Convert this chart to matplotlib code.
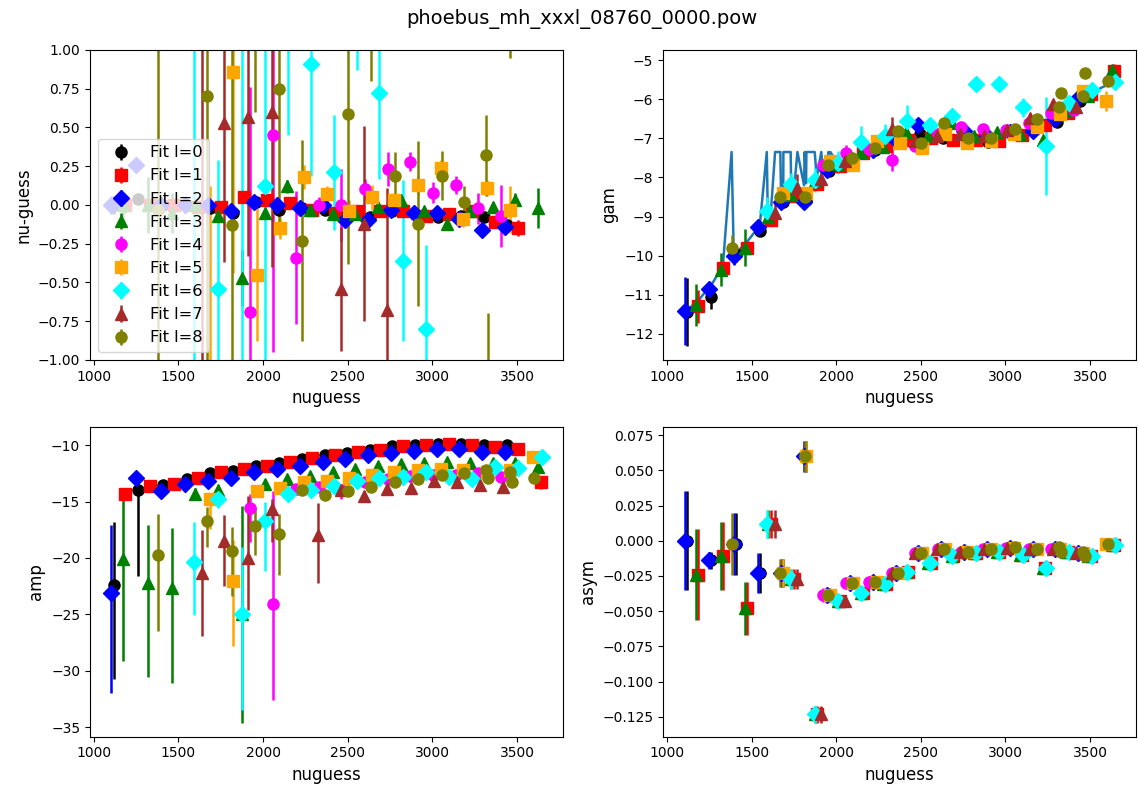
import matplotlib
matplotlib.use("Agg")
import matplotlib.pyplot as plt

title = "phoebus_mh_xxxl_08760_0000.pow"
degrees = [0, 1, 2, 3, 4, 5, 6, 7, 8]
colors = ['black', 'red', 'blue', 'green', 'magenta', 'orange', 'cyan', 'brown', 'olive']
markers = ['o', 's', 'D', '^', 'o', 's', 'D', '^', 'o']

# mode frequencies (nuguess) per degree
nu = {
    0: [1118, 1263, 1407, 1548, 1687, 1822, 1957, 2094, 2229, 2363, 2496, 2630, 2764, 2899, 3034, 3169, 3304, 3439],
    1: [1186, 1330, 1473, 1613, 1749, 1885, 2021, 2157, 2292, 2426, 2559, 2693, 2828, 2963, 3098, 3233, 3369, 3504, 3640],
    2: [1104, 1250, 1395, 1536, 1675, 1810, 1946, 2082, 2218, 2352, 2486, 2620, 2755, 2890, 3025, 3160, 3295, 3431],
    3: [1171, 1318, 1460, 1596, 1735, 1873, 2009, 2144, 2278, 2414, 2545, 2682, 2814, 2950, 3085, 3221, 3356, 3490, 3627],
    4: [1922, 2058, 2194, 2330, 2463, 2600, 2736, 2869, 3003, 3140, 3272, 3408],
    5: [1688, 1824, 1966, 2101, 2239, 2376, 2506, 2643, 2775, 2915, 3052, 3184, 3325, 3457, 3594],
    6: [1590, 1731, 1873, 2009, 2146, 2286, 2419, 2555, 2687, 2828, 2964, 3101, 3237, 3373, 3509, 3646],
    7: [1639, 1771, 1912, 2052, 2327, 2463, 2598, 2734, 2872, 3007, 3143, 3280, 3416],
    8: [1382, 1670, 1814, 1954, 2094, 2230, 2366, 2502, 2637, 2779, 2915, 3055, 3188, 3318, 3330, 3460, 3468, 3603],
}

# nu - guess
nug = {
    0: [0.00, 0.04, 0.00, 0.00, -0.02, -0.05, 0.02, -0.03, -0.02, -0.03, -0.06, -0.08, -0.04, -0.06, -0.08, -0.07, -0.08, -0.13],
    1: [0.00, 0.00, 0.00, -0.01, -0.01, 0.05, 0.03, 0.01, -0.03, -0.05, -0.04, -0.04, -0.04, -0.07, -0.06, -0.04, -0.11, -0.15, 1.30],
    2: [0.00, 0.26, 0.00, 0.00, 0.00, -0.04, 0.02, 0.00, -0.02, 0.00, -0.10, -0.10, -0.03, -0.05, -0.05, -0.09, -0.16, -0.14],
    3: [0.00, 0.00, -0.05, 0.00, -0.07, -0.47, -0.05, 0.12, -0.03, -0.06, -0.06, -0.01, 0.03, -0.04, -0.12, -0.04, -0.01, 0.03, -0.02],
    4: [-0.69, 0.45, -0.34, 0.00, 0.00, 0.10, 0.23, 0.28, 0.08, 0.13, -0.02, -0.07],
    5: [-1.30, 0.86, -0.45, -0.15, 0.18, 0.07, -0.04, 0.05, 0.03, 0.13, 0.24, -0.09, 0.11, -0.03, 1.40],
    6: [-1.50, -0.54, 2.50, 0.12, 1.50, 0.91, 0.21, 1.40, 0.72, -0.36, -0.80, 1.50, 1.50, 1.50, 1.50, 1.50],
    7: [-1.50, 0.53, 0.57, 0.60, 1.50, -0.54, -0.12, -0.68, 1.50, 1.50, 1.50, 1.50, 1.50],
    8: [-0.03, 0.70, -0.13, 1.30, 0.75, -0.23, -1.60, 0.59, 1.40, 0.19, -0.12, 0.19, 0.02, 0.32, -1.20, 1.30, 1.50, 1.50],
}
nug_err = {
    0: [0.06, 0.03, 0.04, 0.03, 0.02, 0.02, 0.02, 0.02, 0.02, 0.02, 0.02, 0.02, 0.02, 0.02, 0.02, 0.02, 0.02, 0.03],
    1: [0.05, 0.04, 0.04, 0.03, 0.02, 0.02, 0.02, 0.02, 0.02, 0.02, 0.02, 0.02, 0.02, 0.02, 0.02, 0.03, 0.03, 0.05, 0.10],
    2: [0.06, 0.03, 0.03, 0.03, 0.03, 0.03, 0.03, 0.03, 0.03, 0.03, 0.03, 0.03, 0.03, 0.03, 0.03, 0.03, 0.03, 0.03],
    3: [0.08, 0.18, 0.13, 0.05, 0.03, 0.18, 0.03, 0.04, 0.03, 0.03, 0.03, 0.03, 0.03, 0.03, 0.03, 0.03, 0.03, 0.05, 0.13],
    4: [1.45, 1.40, 0.43, 0.05, 0.23, 0.07, 0.11, 0.06, 0.07, 0.06, 0.10, 0.20],
    5: [1.42, 1.30, 0.43, 0.07, 0.08, 0.05, 0.07, 0.08, 0.05, 0.06, 0.05, 0.05, 0.05, 0.15, 0.10],
    6: [2.60, 0.83, 3.60, 1.20, 1.05, 0.72, 0.37, 0.53, 0.55, 0.52, 0.54, 0.20, 0.20, 0.20, 0.20, 0.20],
    7: [2.60, 0.90, 0.90, 1.00, 0.20, 0.40, 0.63, 0.79, 0.20, 0.20, 0.20, 0.20, 0.20],
    8: [2.00, 1.80, 1.20, 0.70, 0.90, 0.65, 0.20, 0.97, 0.60, 0.15, 0.53, 0.16, 0.10, 0.26, 0.50, 0.35, 0.20, 0.20],
}

# linewidth (gam)
gam = {
    0: [-11.44, -11.07, -9.97, -9.36, -8.63, -8.58, -7.84, -7.55, -7.30, -7.10, -6.88, -7.00, -6.95, -7.09, -6.87, -6.79, -6.57, -6.04],
    1: [-11.30, -10.32, -9.80, -9.08, -8.48, -8.18, -7.70, -7.37, -7.20, -7.03, -7.00, -7.03, -7.04, -7.07, -6.91, -6.67, -6.34, -5.87, -5.29],
    2: [-11.43, -10.85, -10.00, -9.27, -8.63, -8.63, -7.80, -7.60, -7.30, -7.03, -6.67, -6.90, -6.80, -6.95, -6.85, -6.80, -6.50, -5.96],
    3: [-11.26, -10.36, -9.80, -9.00, -8.45, -8.10, -7.65, -7.35, -7.21, -6.85, -6.95, -6.62, -6.94, -6.85, -6.88, -7.05, -6.30, -5.91, -5.26],
    4: [-7.69, -7.38, -7.28, -7.56, -7.20, -6.88, -6.71, -6.77, -6.79, -6.62, -6.34, -6.28],
    5: [-8.40, -8.40, -7.58, -7.67, -7.07, -7.11, -7.24, -6.88, -7.11, -7.06, -6.88, -6.72, -6.38, -5.78, -6.04],
    6: [-8.86, -8.18, -8.07, -7.62, -7.09, -6.94, -6.56, -6.67, -6.43, -5.60, -5.60, -6.21, -7.20, -6.09, -5.77, -5.57],
    7: [-8.90, -8.26, -8.03, -7.58, -6.75, -7.07, -6.94, -6.88, -6.94, -6.79, -6.47, -6.13, -6.20],
    8: [-9.80, -8.50, -8.50, -7.69, -7.50, -7.26, -6.81, -7.13, -6.62, -7.00, -7.00, -6.77, -6.51, -6.20, -5.83, -5.91, -5.34, -5.53],
}
gam_err = {
    0: [0.87, 0.30, 0.20, 0.10, 0.10, 0.08, 0.08, 0.06, 0.06, 0.05, 0.05, 0.05, 0.05, 0.05, 0.05, 0.05, 0.05, 0.05],
    1: [0.43, 0.10, 0.15, 0.10, 0.08, 0.08, 0.06, 0.06, 0.06, 0.05, 0.05, 0.05, 0.05, 0.05, 0.05, 0.06, 0.06, 0.08, 0.19],
    2: [0.87, 0.10, 0.25, 0.10, 0.08, 0.08, 0.05, 0.05, 0.05, 0.05, 0.05, 0.05, 0.05, 0.05, 0.05, 0.05, 0.05, 0.05],
    3: [0.54, 0.43, 0.47, 0.25, 0.10, 0.10, 0.08, 0.06, 0.06, 0.06, 0.06, 0.06, 0.06, 0.06, 0.06, 0.06, 0.06, 0.06, 0.06],
    4: [0.15, 0.20, 0.10, 0.28, 0.10, 0.08, 0.08, 0.06, 0.06, 0.06, 0.06, 0.06],
    5: [0.15, 0.15, 0.10, 0.10, 0.08, 0.06, 0.06, 0.06, 0.06, 0.06, 0.06, 0.06, 0.06, 0.08, 0.25],
    6: [0.35, 0.30, 0.30, 0.30, 0.40, 0.30, 0.40, 0.15, 0.20, 0.10, 0.10, 0.25, 1.26, 0.10, 0.10, 0.10],
    7: [0.25, 0.35, 0.25, 0.25, 0.30, 0.10, 0.08, 0.08, 0.08, 0.08, 0.08, 0.08, 0.08],
    8: [0.32, 0.10, 0.15, 0.10, 0.15, 0.10, 0.08, 0.08, 0.08, 0.08, 0.08, 0.08, 0.08, 0.08, 0.08, 0.08, 0.08, 0.08],
}

# guess linewidth curve (blue line in gam panel)
gline_nu = [1104, 1118, 1171, 1186, 1250, 1263, 1318, 1330, 1382, 1395, 1407, 1460, 1473, 1536, 1548,
            1590, 1596, 1613, 1639, 1670, 1675, 1687, 1688, 1731, 1735, 1749, 1771, 1810, 1814, 1822,
            1824, 1873, 1885, 1912, 1922, 1946, 1954, 1957, 1966, 2009, 2021, 2058, 2094, 2157, 2229,
            2292, 2363, 2426, 2496, 2559, 2630, 2693, 2764, 2828, 2899, 2963, 3034, 3098, 3169, 3233,
            3304, 3369, 3439, 3504, 3569, 3646]
gline_gam = [-11.45, -11.40, -11.20, -11.15, -10.80, -10.75, -10.35, -10.30, -7.35, -10.00, -9.95, -9.70, -9.65, -9.30, -9.25,
             -7.35, -9.00, -8.95, -7.35, -7.35, -8.70, -8.65, -7.35, -7.35, -8.45, -8.40, -7.35, -8.20, -7.35, -8.15,
             -7.35, -7.35, -8.00, -7.35, -7.90, -7.85, -7.35, -7.80, -7.35, -7.65, -7.60, -7.55, -7.50, -7.35, -7.25,
             -7.15, -7.05, -7.00, -6.95, -6.95, -6.92, -6.92, -6.95, -6.97, -6.97, -6.95, -6.88, -6.82, -6.72, -6.60,
             -6.45, -6.25, -6.05, -5.85, -5.70, -5.55]

# amplitude (lower / upper errors)
amp = {
    0: [-22.4, -14.0, -13.5, -13.0, -12.5, -12.3, -11.8, -11.6, -11.2, -10.9, -10.7, -10.4, -10.1, -10.0, -9.9, -9.9, -10.0, -10.0],
    1: [-14.3, -13.6, -13.4, -12.9, -12.4, -12.1, -11.8, -11.5, -11.1, -10.9, -10.6, -10.4, -10.1, -10.0, -9.9, -10.0, -10.2, -10.3, -13.3],
    2: [-23.1, -12.95, -14.1, -13.4, -13.2, -12.9, -12.4, -12.1, -11.8, -11.5, -11.2, -10.9, -10.7, -10.5, -10.3, -10.3, -10.6, -10.6],
    3: [-20.1, -22.2, -22.7, -14.3, -14.0, -25.0, -13.4, -13.0, -12.7, -12.4, -12.1, -11.8, -11.7, -11.6, -11.5, -11.6, -11.6, -11.6, -11.9],
    4: [-15.6, -24.1, -13.9, -13.7, -14.0, -13.3, -13.0, -12.7, -12.6, -12.6, -12.5, -12.8],
    5: [-14.8, -22.0, -14.1, -13.8, -13.3, -13.2, -12.9, -12.6, -12.4, -12.2, -12.1, -12.2, -12.4, -12.2, -11.0],
    6: [-20.4, -14.8, -25.0, -16.75, -14.3, -14.0, -13.6, -13.2, -12.9, -12.8, -12.4, -12.8, -13.0, -11.9, -12.0, -11.0],
    7: [-21.3, -18.5, -20.0, -15.7, -18.0, -14.0, -14.5, -13.9, -13.8, -13.2, -13.3, -13.5, -13.7],
    8: [-19.7, -16.75, -19.4, -17.2, -17.9, -14.0, -14.4, -14.1, -13.7, -13.3, -13.0, -12.6, -12.5, -12.2, -12.9, -12.4, -13.3, -12.9],
}
amp_elo = {
    0: [8.3, 7.6, 0.3, 0.3, 0.3, 0.3, 0.3, 0.3, 0.3, 0.3, 0.3, 0.3, 0.3, 0.3, 0.3, 0.3, 0.3, 0.3],
    1: [0.3, 0.3, 0.3, 0.3, 0.3, 0.3, 0.3, 0.3, 0.3, 0.3, 0.3, 0.3, 0.3, 0.3, 0.3, 0.3, 0.3, 0.3, 0.6],
    2: [8.9, 0.3, 0.3, 0.3, 0.3, 0.3, 0.3, 0.3, 0.3, 0.3, 0.3, 0.3, 0.3, 0.3, 0.3, 0.3, 0.3, 0.3],
    3: [9.0, 8.4, 8.4, 0.5, 0.5, 9.6, 0.3, 0.3, 0.3, 0.3, 0.3, 0.3, 0.3, 0.3, 0.3, 0.3, 0.3, 0.3, 0.3],
    4: [3.0, 8.5, 0.5, 0.4, 0.8, 0.3, 0.3, 0.3, 0.3, 0.3, 0.3, 0.3],
    5: [2.6, 5.8, 0.3, 0.3, 0.3, 0.3, 0.3, 0.3, 0.3, 0.3, 0.3, 0.3, 0.3, 0.3, 0.3],
    6: [4.7, 0.8, 8.5, 4.45, 0.4, 0.4, 0.4, 0.4, 0.4, 0.4, 0.4, 0.4, 0.4, 0.4, 0.4, 0.4],
    7: [5.6, 4.0, 4.6, 2.9, 4.2, 0.4, 0.4, 0.4, 0.4, 0.4, 0.4, 0.4, 0.4],
    8: [6.8, 2.25, 4.0, 2.5, 3.6, 0.4, 0.4, 0.4, 0.4, 0.4, 0.4, 0.4, 0.4, 0.4, 0.4, 0.4, 0.4, 0.4],
}
amp_ehi = {
    0: [5.6, 1.0, 0.3, 0.3, 0.3, 0.3, 0.3, 0.3, 0.3, 0.3, 0.3, 0.3, 0.3, 0.3, 0.3, 0.3, 0.3, 0.3],
    1: [0.3, 0.3, 0.3, 0.3, 0.3, 0.3, 0.3, 0.3, 0.3, 0.3, 0.3, 0.3, 0.3, 0.3, 0.3, 0.3, 0.3, 0.3, 0.3],
    2: [6.0, 0.3, 0.3, 0.3, 0.3, 0.3, 0.3, 0.3, 0.3, 0.3, 0.3, 0.3, 0.3, 0.3, 0.3, 0.3, 0.3, 0.3],
    3: [5.2, 5.1, 5.4, 0.5, 0.5, 9.6, 0.3, 0.3, 0.3, 0.3, 0.3, 0.3, 0.3, 0.3, 0.3, 0.3, 0.3, 0.3, 0.3],
    4: [1.3, 10.0, 0.5, 0.4, 0.4, 0.3, 0.3, 0.3, 0.3, 0.3, 0.3, 0.3],
    5: [0.4, 3.6, 0.3, 0.3, 0.3, 0.3, 0.3, 0.3, 0.3, 0.3, 0.3, 0.3, 0.3, 0.3, 0.3],
    6: [3.6, 0.4, 6.0, 1.7, 0.4, 0.4, 0.4, 0.4, 0.4, 0.4, 0.4, 0.4, 0.4, 0.4, 0.4, 0.4],
    7: [3.8, 2.3, 5.5, 0.9, 2.9, 0.4, 0.4, 0.4, 0.4, 0.4, 0.4, 0.4, 0.4],
    8: [3.6, 1.25, 2.15, 1.7, 1.8, 0.4, 0.4, 0.4, 0.4, 0.4, 0.4, 0.4, 0.4, 0.4, 0.4, 0.4, 0.4, 0.4],
}

# asymmetry
asym = {
    0: [0.000, -0.014, -0.002, -0.023, -0.023, 0.060, -0.0385, -0.030, -0.029, -0.023, -0.009, -0.006, -0.008, -0.006, -0.005, -0.0055, -0.006, -0.009],
    1: [-0.024, -0.011, -0.048, 0.012, -0.027, -0.123, -0.0425, -0.037, -0.031, -0.022, -0.016, -0.011, -0.0087, -0.008, -0.010, -0.019, -0.008, -0.011, -0.0027],
    2: [0.000, -0.014, -0.002, -0.023, -0.023, 0.060, -0.0385, -0.030, -0.029, -0.023, -0.009, -0.006, -0.008, -0.006, -0.005, -0.0055, -0.006, -0.009],
    3: [-0.024, -0.011, -0.048, 0.012, -0.027, -0.123, -0.0425, -0.037, -0.031, -0.022, -0.016, -0.011, -0.0087, -0.008, -0.010, -0.019, -0.008, -0.011, -0.0027],
    4: [-0.0385, -0.030, -0.029, -0.023, -0.009, -0.006, -0.008, -0.006, -0.005, -0.0055, -0.006, -0.009],
    5: [-0.023, 0.060, -0.0385, -0.030, -0.029, -0.023, -0.009, -0.006, -0.008, -0.006, -0.005, -0.0055, -0.006, -0.009, -0.002],
    6: [0.012, -0.027, -0.123, -0.0425, -0.037, -0.031, -0.022, -0.016, -0.011, -0.0087, -0.008, -0.010, -0.019, -0.008, -0.011, -0.0027],
    7: [0.012, -0.027, -0.123, -0.0425, -0.023, -0.009, -0.006, -0.008, -0.006, -0.005, -0.0055, -0.006, -0.009],
    8: [-0.002, -0.023, 0.060, -0.0385, -0.030, -0.029, -0.023, -0.009, -0.0055, -0.008, -0.006, -0.0045, -0.0055, -0.0045, -0.008, -0.008, -0.0105, -0.002],
}
asym_err = {
    0: [0.035, 0.006, 0.022, 0.014, 0.010, 0.011, 0.005, 0.004, 0.004, 0.004, 0.003, 0.003, 0.003, 0.003, 0.003, 0.003, 0.003, 0.003],
    1: [0.032, 0.024, 0.019, 0.010, 0.007, 0.006, 0.004, 0.004, 0.004, 0.004, 0.003, 0.003, 0.003, 0.003, 0.003, 0.003, 0.003, 0.003, 0.003],
    2: [0.035, 0.006, 0.022, 0.014, 0.010, 0.011, 0.005, 0.004, 0.004, 0.004, 0.003, 0.003, 0.003, 0.003, 0.003, 0.003, 0.003, 0.003],
    3: [0.032, 0.024, 0.019, 0.010, 0.007, 0.006, 0.004, 0.004, 0.004, 0.004, 0.003, 0.003, 0.003, 0.003, 0.003, 0.003, 0.003, 0.003, 0.003],
    4: [0.005, 0.004, 0.004, 0.004, 0.003, 0.003, 0.003, 0.003, 0.003, 0.003, 0.003, 0.003],
    5: [0.010, 0.011, 0.005, 0.004, 0.004, 0.004, 0.003, 0.003, 0.003, 0.003, 0.003, 0.003, 0.003, 0.003, 0.003],
    6: [0.010, 0.007, 0.006, 0.004, 0.004, 0.004, 0.004, 0.003, 0.003, 0.003, 0.003, 0.003, 0.003, 0.003, 0.003, 0.003],
    7: [0.010, 0.007, 0.006, 0.004, 0.004, 0.003, 0.003, 0.003, 0.003, 0.003, 0.003, 0.003, 0.003],
    8: [0.022, 0.010, 0.011, 0.005, 0.004, 0.004, 0.004, 0.003, 0.003, 0.003, 0.003, 0.003, 0.003, 0.003, 0.003, 0.003, 0.003, 0.003],
}

fig, axs = plt.subplots(2, 2, figsize=(11.38, 7.87), dpi=100)
fig.subplots_adjust(left=0.079, right=0.9985, top=0.9365, bottom=0.064, wspace=0.211, hspace=0.215)
ax_nu, ax_gam = axs[0]
ax_amp, ax_asym = axs[1]

ax_gam.plot(gline_nu, gline_gam, color='tab:blue', lw=1.8, zorder=1)

ms = 8
for l, c, m in zip(degrees, colors, markers):
    kw = dict(fmt=m, color=c, ms=ms, elinewidth=1.8, capsize=0)
    ax_nu.errorbar(nu[l], nug[l], yerr=nug_err[l], label=f"Fit l={l}", **kw)
    ax_gam.errorbar(nu[l], gam[l], yerr=gam_err[l], **kw)
    ax_amp.errorbar(nu[l], amp[l], yerr=[amp_elo[l], amp_ehi[l]], **kw)
    ax_asym.errorbar(nu[l], asym[l], yerr=asym_err[l], **kw)

ax_nu.set_ylim(-1, 1)
ax_nu.set_ylabel("nu-guess", fontsize=12)
ax_gam.set_ylabel("gam", fontsize=12)
ax_amp.set_ylabel("amp", fontsize=12)
ax_asym.set_ylabel("asym", fontsize=12)
for ax in (ax_nu, ax_gam, ax_amp, ax_asym):
    ax.set_xlabel("nuguess", fontsize=12)

ax_nu.legend(loc='lower left', fontsize=11.7)
fig.suptitle(title, fontsize=14, x=0.511, y=0.988)

fig.savefig("out.png", dpi=100)
